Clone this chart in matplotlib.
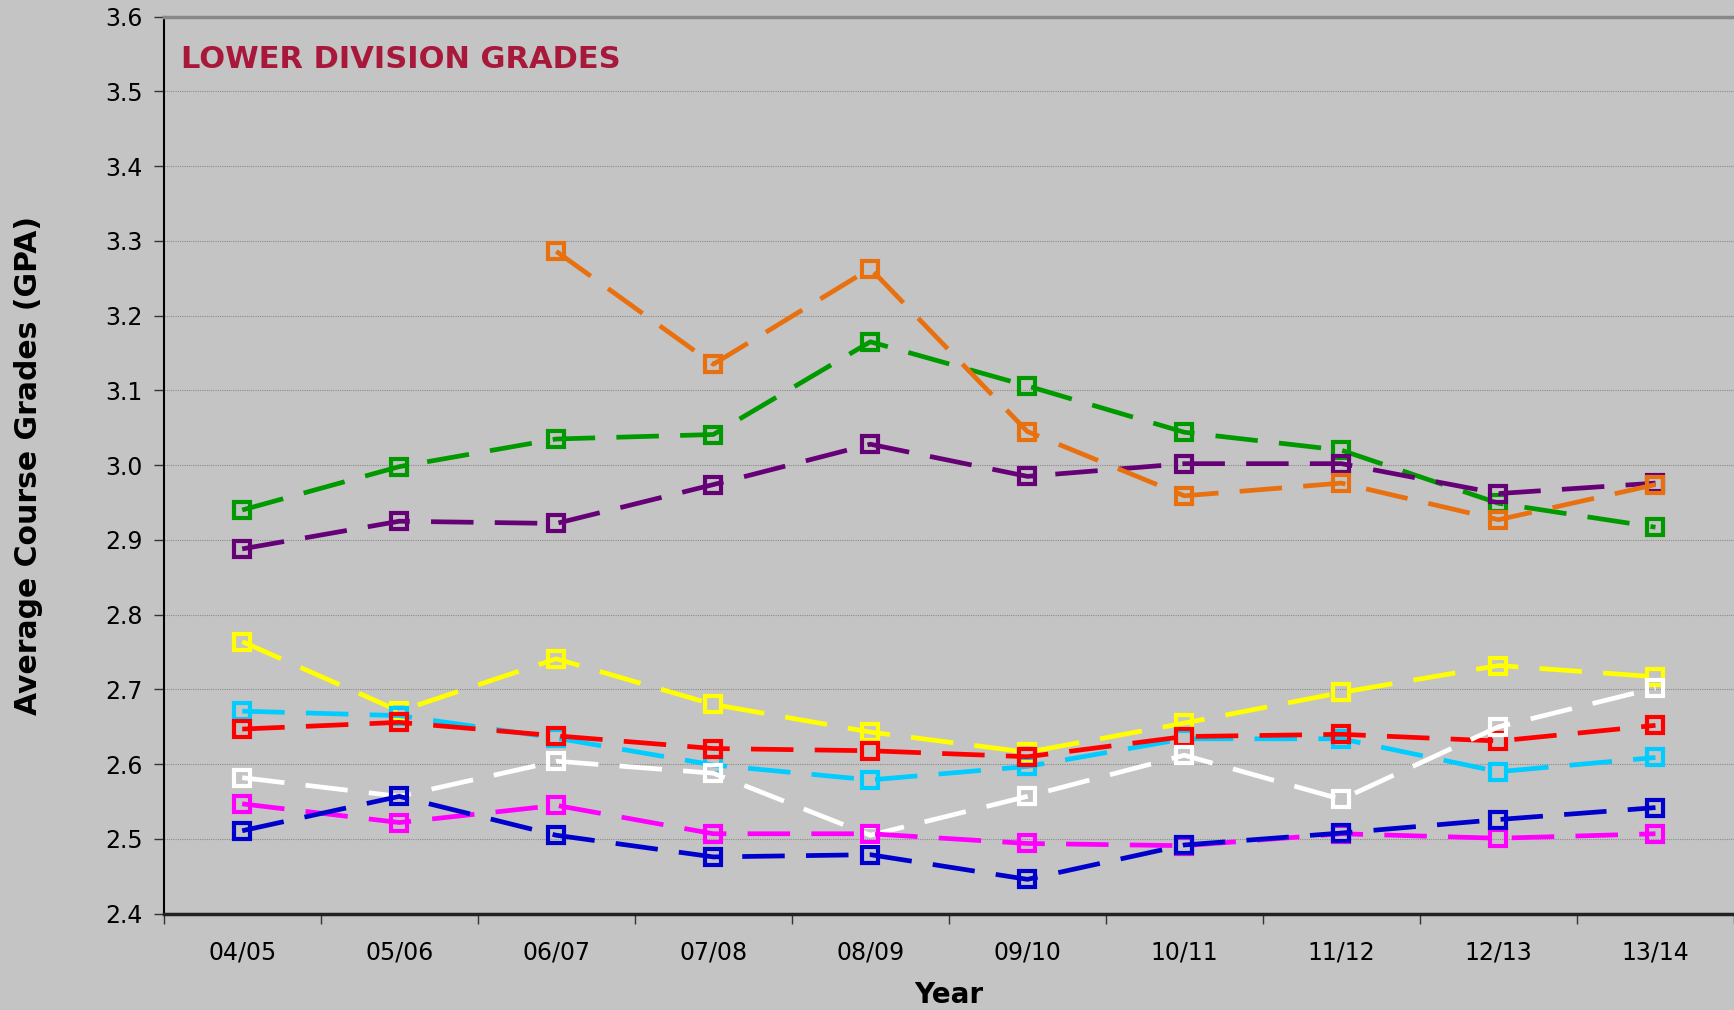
import numpy as np
import matplotlib.pyplot as plt

years = ["04/05", "05/06", "06/07", "07/08", "08/09", "09/10", "10/11", "11/12", "12/13", "13/14"]

green = [2.940, 2.998, 3.035, 3.041, 3.165, 3.106, 3.044, 3.020, 2.949, 2.917]
purple = [2.888, 2.925, 2.922, 2.974, 3.028, 2.985, 3.002, 3.002, 2.962, 2.976]
orange = [np.nan, np.nan, 3.286, 3.135, 3.263, 3.045, 2.959, 2.976, 2.927, 2.974]
yellow = [2.764, 2.671, 2.741, 2.680, 2.643, 2.616, 2.655, 2.696, 2.732, 2.717]
cyan = [2.671, 2.665, 2.635, 2.599, 2.579, 2.597, 2.634, 2.634, 2.590, 2.609]
red = [2.647, 2.656, 2.638, 2.621, 2.618, 2.610, 2.637, 2.640, 2.631, 2.652]
white = [2.582, 2.557, 2.604, 2.588, 2.505, 2.557, 2.612, 2.553, 2.650, 2.702]
magenta = [2.547, 2.522, 2.545, 2.507, 2.507, 2.494, 2.491, 2.507, 2.501, 2.507]
blue = [2.511, 2.557, 2.505, 2.476, 2.479, 2.446, 2.492, 2.508, 2.526, 2.542]

series = [
    (green, "#009900"),
    (purple, "#660077"),
    (orange, "#E8700E"),
    (yellow, "#FFFF00"),
    (cyan, "#00CCFF"),
    (red, "#FF0000"),
    (white, "#FFFFFF"),
    (magenta, "#FF00FF"),
    (blue, "#0000CC"),
]

bg = "#C4C4C4"
fig = plt.figure(figsize=(17.34, 10.10), dpi=100, facecolor=bg)
ax = fig.add_axes([0.0944, 0.0953, 0.9056, 0.8883], facecolor=bg)

x = np.arange(len(years))
for vals, col in series:
    ax.plot(x, vals, color=col, lw=3.4, dashes=(9, 4.5), marker="s", ms=12,
            mfc="none", mec=col, mew=3, zorder=3)

ax.set_xlim(-0.5, len(years) - 0.5)
ax.set_ylim(2.4, 3.6)
ax.set_yticks(np.arange(2.4, 3.61, 0.1))
ax.set_yticklabels([f"{v:.1f}" for v in np.arange(2.4, 3.61, 0.1)])
ax.yaxis.grid(True, color="#8C8C8C", ls=(0, (1, 1)), lw=0.8)
ax.set_axisbelow(True)

ax.set_xticks(x)
ax.set_xticklabels(years)
ax.set_xticks(np.arange(-0.5, len(years) + 0.5, 1), minor=True)
ax.tick_params(axis="x", which="major", length=0, pad=19, labelsize=17)
ax.tick_params(axis="x", which="minor", length=7, width=1, color="#333333")
ax.tick_params(axis="y", length=7, width=1, color="#333333", labelsize=17, pad=8)

ax.spines["right"].set_visible(False)
ax.spines["top"].set_color("#888888")
ax.spines["top"].set_linewidth(2.5)
ax.spines["left"].set_color("black")
ax.spines["left"].set_linewidth(1.5)
ax.spines["bottom"].set_color("#222222")
ax.spines["bottom"].set_linewidth(2.5)

ax.set_xlabel("Year", fontsize=20, fontweight="bold", labelpad=12)
ax.set_ylabel("Average Course Grades (GPA)", fontsize=21.5, fontweight="bold", labelpad=45)

ax.text(0.011, 0.968, "LOWER DIVISION GRADES", transform=ax.transAxes, color="#A8183A",
        fontsize=22, fontweight="bold", va="top", ha="left")

fig.savefig("out.png", dpi=100, facecolor=bg)
